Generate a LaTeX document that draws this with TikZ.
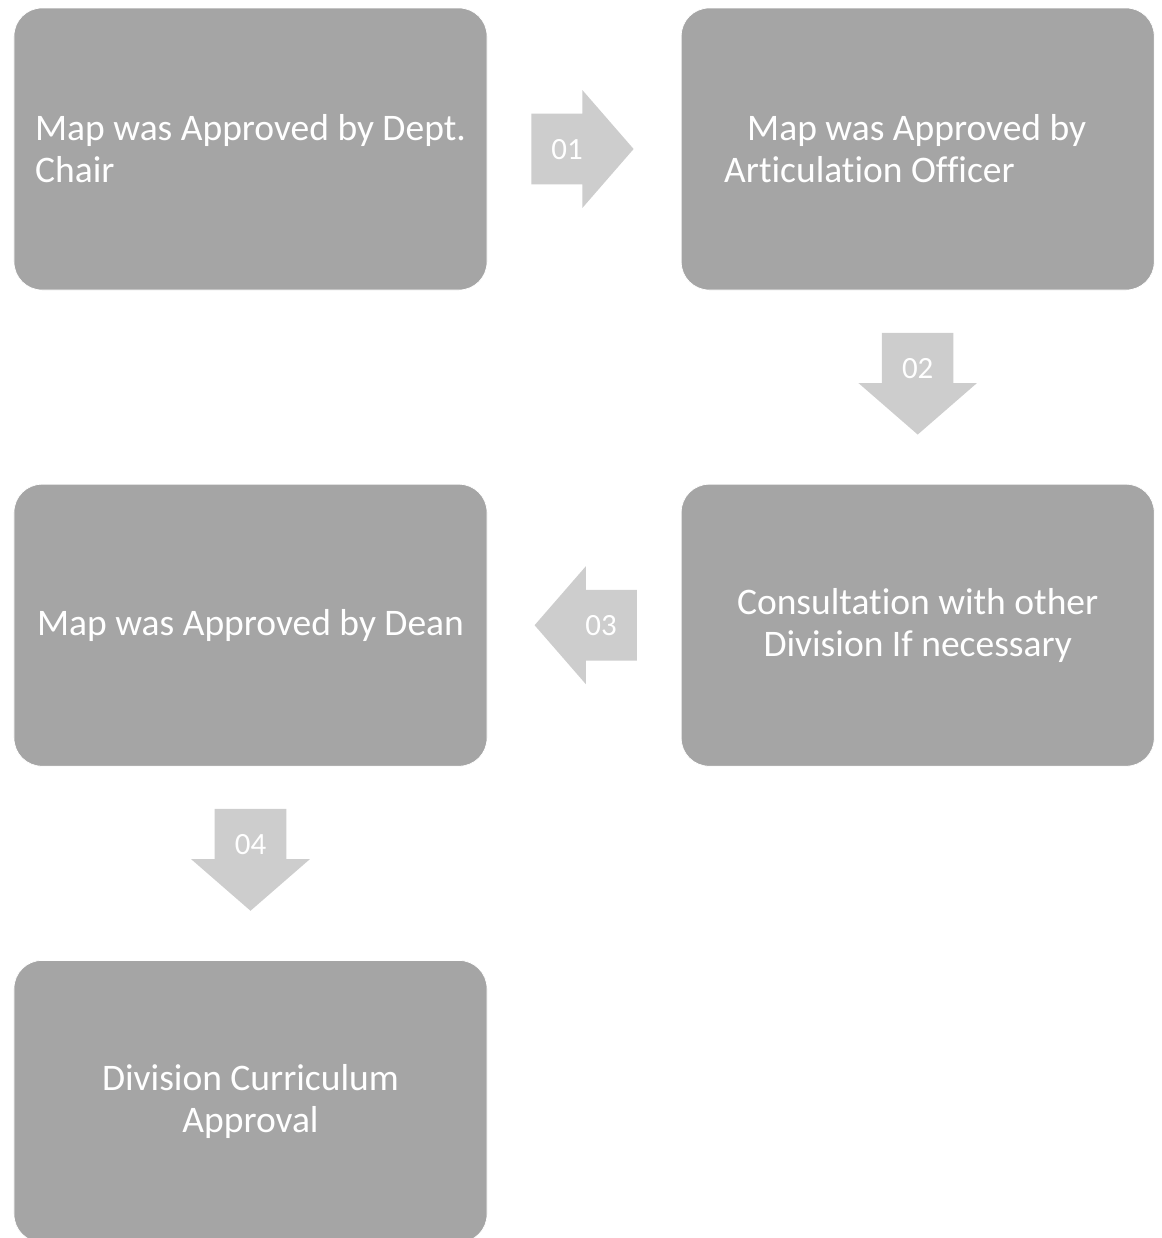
\documentclass[tikz,border=0pt]{standalone}
\usepackage{fontspec}
\setmainfont{Carlito}[Ligatures=NoCommon]
\usetikzlibrary{shapes.arrows, positioning, calc}
\definecolor{boxgray}{HTML}{A5A5A5}
\definecolor{arrowgray}{HTML}{CDCDCD}
\tikzset{
stepbox/.style={rectangle, rounded corners=0.56cm, fill=boxgray, draw=white, thin, minimum width=9.46cm, minimum height=5.64cm, text=white, font=\fontsize{21.35}{24}\selectfont, align=center}, % grey approval boxes
steparrow/.style={single arrow, fill=arrowgray, text=white, font=\fontsize{17.6}{20}\selectfont, minimum height=2cm, single arrow head extend=0.47cm, single arrow tip angle=98, inner xsep=0.395cm, inner ysep=0.5cm, text height=0.4cm, text depth=0cm}, % numbered block arrows
node distance=3.87cm, % gap between the boxes
}
\begin{document}
\begin{tikzpicture}
                \useasboundingbox (0,0) rectangle (23.24,-24.76);
                \node[stepbox, align=flush left] (chair) at (5.01,-2.98) {Map was Approved by Dept.\\Chair};
                \node[stepbox, text width=7.74cm, inner xsep=0.86cm, align=flush left, right=of chair] (articulation) {\hspace*{0.46cm}Map was Approved by\\Articulation Officer};
                \node[stepbox, below=of articulation] (consult) {Consultation with other\\Division If necessary};
                \node[stepbox, left=of consult] (dean) {Map was Approved by Dean};
                \node[stepbox, below=of dean] (division) {Division Curriculum\\Approval};
                \node[steparrow, xshift=-0.34cm] (a1) at ($(chair.east)!0.5!(articulation.west)$) {01};
                \node[steparrow, shape border rotate=270, yshift=0.38cm] (a2) at ($(articulation.south)!0.5!(consult.north)$) {02};
                \node[steparrow, shape border rotate=180, xshift=0.34cm] (a3) at ($(consult.west)!0.5!(dean.east)$) {03};
                \node[steparrow, shape border rotate=270, yshift=0.38cm] (a4) at ($(dean.south)!0.5!(division.north)$) {04};
\end{tikzpicture}
\end{document}
